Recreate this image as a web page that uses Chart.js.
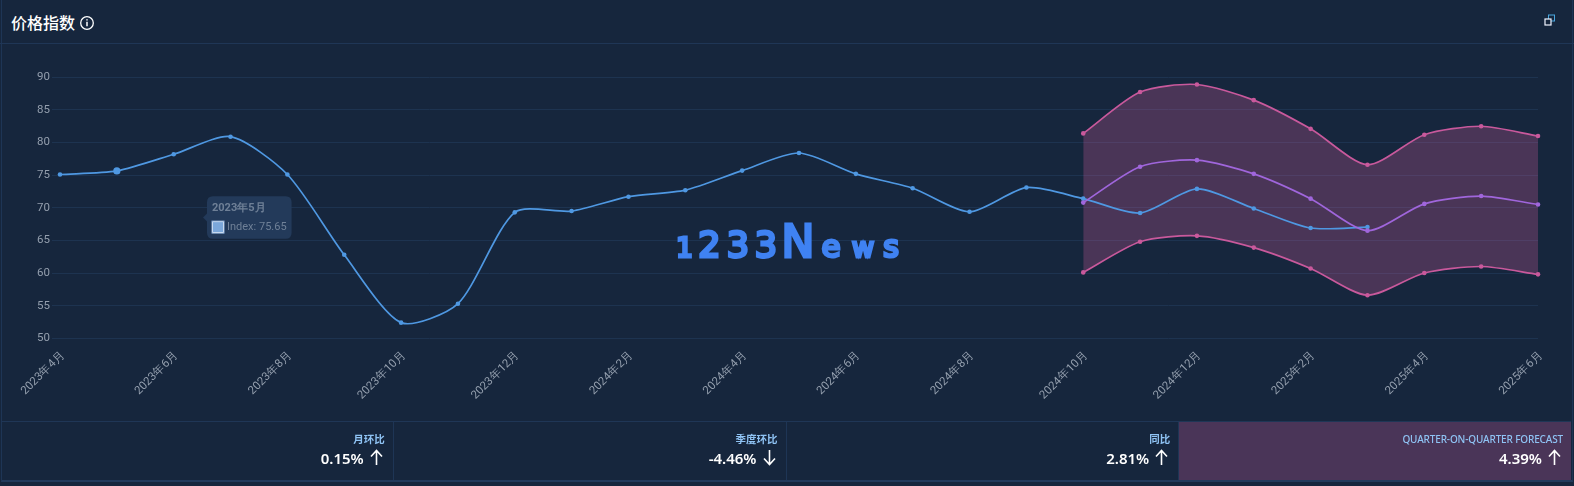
<!DOCTYPE html>
<html>
<head>
<meta charset="utf-8">
<script src="https://cdn.jsdelivr.net/npm/chart.js@4/dist/chart.umd.min.js"></script>
<style>
html, body { margin: 0; padding: 0; background: #16263d; width: 1574px; height: 486px; overflow: hidden; font-family: "Noto Sans", "Noto Sans CJK SC", sans-serif; }
#card { position: absolute; left: 1px; top: 0; width: 1570px; height: 480px; border-left: 1px solid #1e3555; border-right: 1px solid #1e3555; border-bottom: 2px solid #223a5c; box-sizing: content-box; }
#head { position: absolute; left: 0; top: 0; width: 1574px; height: 43px; border-bottom: 1px solid #1f3656; box-sizing: content-box; }
#title { position: absolute; left: 11px; top: 10px; font: 500 16px/24px "Noto Sans CJK SC", sans-serif; color: #fff; }
#info { position: absolute; left: 79px; top: 15px; }
#expand { position: absolute; left: 1544px; top: 14px; }
#chartBox { position: absolute; left: 0; top: 0; width: 1574px; height: 486px; }
#mark { position: absolute; left: 674px; top: 217px; height: 50px; line-height: 50px; white-space: nowrap; color: #3f82f2; font-family: "DejaVu Sans", sans-serif; font-weight: 400; -webkit-text-stroke: 3px #3f82f2; }
#mark span { display: inline-block; text-align: center; vertical-align: baseline; }
#stats { position: absolute; left: 1px; top: 421px; width: 1570px; height: 59px; display: flex; border-top: 1px solid #1f3656; box-sizing: border-box; }
.cell { flex: 1 1 0; position: relative; border-right: 1px solid #1e3555; box-sizing: border-box; }
.cell.fc { background: #4a3558; border-right: 0; }
.cell .lbl { position: absolute; right: 8px; top: 10px; font: 600 10.5px/14px "Noto Sans", "Noto Sans CJK SC", sans-serif; color: #8fc3f4; white-space: nowrap; }
.cell.fc .lbl { font-size: 10px; letter-spacing: -0.15px; font-weight: 500; }
.cell .val { position: absolute; right: 29px; top: 25px; font: 600 15px/22px "Noto Sans", sans-serif; color: #fff; white-space: nowrap; }
.cell svg { position: absolute; right: 10px; top: 27px; }
</style>
</head>
<body>
<div id="card"></div>
<div id="head"></div>
<div id="title">价格指数</div>
<svg id="info" width="16" height="16" viewBox="0 0 16 16"><circle cx="8" cy="8" r="6.3" fill="none" stroke="#fff" stroke-width="1.3"/><path d="M8 6.8v4.4M8 4.2v1.4" stroke="#fff" stroke-width="1.5"/></svg>
<svg id="expand" width="12" height="12" viewBox="0 0 12 12"><rect x="4.5" y="1" width="6" height="6" fill="none" stroke="#4aa8e0" stroke-width="1"/><rect x="1" y="5" width="6" height="6" fill="#16263d" stroke="#f0f4ff" stroke-width="1.2"/></svg>
<div id="chartBox"><canvas id="priceChart"></canvas></div>
<div id="mark"><span style="font-size:26px;width:21px">1</span><span style="font-size:35px;width:29px">2</span><span style="font-size:35px;width:28px">3</span><span style="font-size:35px;width:28px">3</span><span style="font-size:44px;width:36px">N</span><span style="font-size:31px;width:30px">e</span><span style="font-size:27px;width:34px">w</span><span style="font-size:30px;width:22px">s</span></div>
<div id="stats"></div>
<script>
const monthLabels = ['2023年4月','2023年5月','2023年6月','2023年7月','2023年8月','2023年9月','2023年10月','2023年11月','2023年12月',
  '2024年1月','2024年2月','2024年3月','2024年4月','2024年5月','2024年6月','2024年7月','2024年8月','2024年9月','2024年10月','2024年11月','2024年12月',
  '2025年1月','2025年2月','2025年3月','2025年4月','2025年5月','2025年6月'];
const indexValues = [75.1,75.65,78.2,80.9,75.1,62.8,52.4,55.3,69.3,69.5,71.7,72.7,75.7,78.4,75.2,73.0,69.4,73.1,71.4,69.2,72.9,69.9,66.9,67.05,null,null,null];
const forecastValues = [null,null,null,null,null,null,null,null,null,null,null,null,null,null,null,null,null,null,70.8,76.3,77.3,75.2,71.4,66.5,70.6,71.8,70.5];
const upperValues = [null,null,null,null,null,null,null,null,null,null,null,null,null,null,null,null,null,null,81.4,87.75,88.9,86.5,82.1,76.6,81.2,82.5,81.0];
const lowerValues = [null,null,null,null,null,null,null,null,null,null,null,null,null,null,null,null,null,null,60.1,64.8,65.7,63.9,60.7,56.6,60.0,61.0,59.8];
const yTicks = [50,55,60,65,70,75,80,85,90];
const statNames = ['月环比','季度环比','同比','QUARTER-ON-QUARTER FORECAST'];
const statValues = ['0.15%','-4.46%','2.81%','4.39%'];
const statUp = [true,false,true,true];

// Bottom stat cells
const arrow = up => `<svg width="13" height="17" viewBox="0 0 13 17"><path d="${up ? 'M6.5 16V2M1 7.5L6.5 1.5L12 7.5' : 'M6.5 1V15M1 9.5L6.5 15.5L12 9.5'}" fill="none" stroke="#fff" stroke-width="1.6"/></svg>`;
document.getElementById('stats').innerHTML = statNames.map((n, i) =>
  `<div class="cell${i === 3 ? ' fc' : ''}"><div class="lbl">${n}</div><div class="val">${statValues[i]}</div>${arrow(statUp[i])}</div>`).join('');

Chart.Tooltip.positioners.fixedSpot = function () {
  return { x: 203, y: 217.5, xAlign: 'left', yAlign: 'center' };
};

const line = (label, data, color, extra) => Object.assign({
  label, data, borderColor: color, backgroundColor: color, pointBackgroundColor: color, pointBorderColor: color,
  pointHoverBackgroundColor: color, pointHoverBorderColor: color,
  borderWidth: 1.7, pointRadius: 2.3, pointBorderWidth: 0, pointHoverRadius: 3.6, pointHoverBorderWidth: 0,
  tension: 0.25, spanGaps: false, fill: false, clip: false
}, extra);

const chart = new Chart(document.getElementById('priceChart').getContext('2d'), {
  type: 'line',
  data: {
    labels: monthLabels,
    datasets: [
      line('Upper', upperValues, '#c9599c', { fill: '+1', backgroundColor: 'rgba(230,98,169,0.25)' }),
      line('Lower', lowerValues, '#c9599c'),
      line('Forecast', forecastValues, '#a066dc'),
      line('Index', indexValues, '#4f98e2')
    ]
  },
  options: {
    responsive: true, maintainAspectRatio: false, animation: false,
    events: [],
    layout: { padding: { top: 77.3, right: 36, left: 0, bottom: 0 } },
    scales: {
      x: {
        offset: false,
        grid: { display: false }, border: { display: false },
        afterFit: s => { s.height = 147.7; },
        ticks: {
          autoSkip: false, maxRotation: 45, minRotation: 45, padding: 2, labelOffset: 3,
          color: '#949fae', font: { family: 'Roboto', size: 11.5 },
          callback: function (v, i) { return i % 2 === 0 ? monthLabels[i] : ''; }
        }
      },
      y: {
        min: 50, max: 90,
        afterFit: s => { s.width = 60; },
        afterBuildTicks: s => { s.ticks = yTicks.map(value => ({ value })); },
        grid: { color: '#1d3350', lineWidth: 1 }, border: { display: false },
        ticks: { color: '#949fae', font: { family: 'Roboto', size: 11.5 }, padding: 2 }
      }
    },
    plugins: {
      filler: { drawTime: 'beforeDatasetsDraw' },
      legend: { display: false },
      tooltip: {
        position: 'fixedSpot',
        filter: item => item.dataset.label === 'Index',
        backgroundColor: '#233a5a', titleColor: '#6f8097', bodyColor: '#6f8097',
        titleFont: { family: 'Roboto', size: 11, weight: 'bold' }, bodyFont: { family: 'Roboto', size: 11 },
        padding: 5, cornerRadius: 6, caretSize: 4, caretPadding: 0, titleMarginBottom: 6,
        boxWidth: 12, boxHeight: 12, boxPadding: 1, displayColors: true,
        callbacks: {
          labelColor: () => ({ borderColor: '#8fb2de', backgroundColor: '#7ba7da', borderWidth: 1, borderRadius: 0 })
        }
      }
    }
  }
});

// Tooltip is frozen on 2023年5月, as in the screenshot
const hovered = [{ datasetIndex: 3, index: 1 }];
chart.setActiveElements(hovered);
chart.tooltip.setActiveElements(hovered, { x: 203, y: 217 });
chart.update();
</script>
</body>
</html>
